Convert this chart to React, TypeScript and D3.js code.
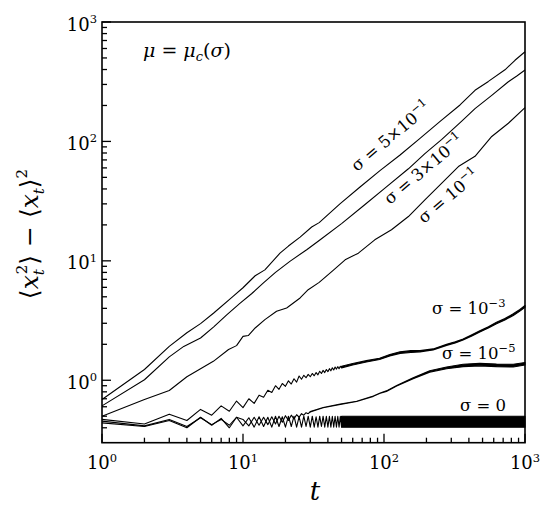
import React from 'react';
import * as d3 from 'd3';

const W = 550;
const H = 511;
const PLOT = { left: 102, right: 525, top: 22, bottom: 442.7 };

const X_DOMAIN: [number, number] = [1, 1000];
const Y_DOMAIN: [number, number] = [0.3, 1000];
const X_MAJOR = [1, 10, 100, 1000];
const X_EXP = ['0', '1', '2', '3'];
const Y_MAJOR = [1, 10, 100, 1000];
const Y_EXP = ['0', '1', '2', '3'];

// smooth curves: [t, <x^2>-<x>^2]
const SIG_5E1: [number, number][] = [
  [1, 0.69], [2, 1.23], [3, 1.92], [4, 2.5], [5, 2.98], [6.2, 3.66], [8.5, 5.04], [10, 5.95],
  [12.2, 7.5], [14.3, 8.4], [18.3, 11.6], [21, 13.3], [25.4, 15.8], [30.7, 19.2], [34.7, 20.9],
  [48.7, 30.0], [67.6, 41.5], [93.6, 57], [130, 77], [180, 106], [250, 147], [346, 202],
  [442, 268], [550, 318], [721, 398], [849, 478], [1000, 563],
];
const SIG_3E1: [number, number][] = [
  [1, 0.61], [2, 1.01], [3, 1.57], [3.8, 1.92], [5, 2.26], [6.2, 2.8], [7.7, 3.54], [9.5, 4.4],
  [11.5, 5.3], [13.9, 6.5], [17, 8.0], [21.5, 9.9], [28.3, 12.4], [34.7, 14.8], [50, 20.5],
  [73, 29.5], [100, 40], [149, 59], [195, 79], [257, 104], [356, 148], [442, 188], [581, 243],
  [762, 316], [880, 355], [1000, 396],
];
const SIG_1E1: [number, number][] = [
  [1, 0.5], [2, 0.69], [3, 0.82], [4, 1.07], [5, 1.25], [6.16, 1.44], [7.9, 1.81], [9, 1.95],
  [10, 2.33], [10.9, 2.37], [12.2, 2.74], [14.3, 3.22], [17.3, 3.78], [20.4, 4.03], [25.4, 4.89],
  [29, 5.73], [34.7, 6.6], [44, 8.4], [53, 10.2], [65.8, 11.6], [86, 15], [113, 18.2],
  [149, 23.5], [195, 32.4], [257, 44.7], [337, 61.6], [442, 75], [581, 110], [762, 142], [1000, 192],
];

// oscillating curves, early part: values at t = 1, 2, 3, ...
const SIG_1E3_EARLY = [
  0.47, 0.43, 0.52, 0.46, 0.57, 0.51, 0.61, 0.55, 0.67, 0.59,
  0.70, 0.64, 0.75, 0.72, 0.825, 0.79, 0.90, 0.84, 0.94, 0.89,
  0.99, 0.93, 1.03, 0.965, 1.085, 1.02, 1.10, 1.05, 1.12, 1.07,
  1.14, 1.09, 1.16, 1.11, 1.19, 1.14, 1.21, 1.16, 1.23, 1.18,
  1.25, 1.20, 1.27, 1.22, 1.29, 1.24, 1.30, 1.25, 1.31, 1.27,
];
const SIG_1E5_EARLY = [
  0.455, 0.415, 0.47, 0.41, 0.485, 0.425, 0.47, 0.42, 0.49, 0.47,
  0.415, 0.49, 0.42, 0.49, 0.425, 0.495, 0.43, 0.50, 0.445, 0.505,
  0.46, 0.51, 0.475, 0.515, 0.49, 0.525, 0.51, 0.535, 0.525, 0.545,
];
const SIG_0_EARLY = [
  0.44, 0.41, 0.46, 0.40, 0.49, 0.42, 0.48, 0.40, 0.49, 0.415,
  0.485, 0.405, 0.495, 0.41, 0.49, 0.405, 0.50, 0.41, 0.495, 0.405,
  0.50, 0.41, 0.50, 0.405, 0.495, 0.405, 0.50, 0.41, 0.50, 0.405,
  0.50, 0.405, 0.495, 0.405, 0.50, 0.41, 0.50, 0.405, 0.50, 0.405,
  0.50, 0.405, 0.50, 0.405, 0.50, 0.405, 0.50, 0.405, 0.50, 0.405,
];

// oscillating curves, late part (dense band): [t, low, high]
const SIG_1E3_LATE: [number, number, number][] = [
  [50, 1.27, 1.31], [60, 1.34, 1.38], [75, 1.42, 1.46], [93, 1.49, 1.53], [110, 1.60, 1.64],
  [130, 1.68, 1.73], [155, 1.71, 1.77], [180, 1.73, 1.77], [223, 1.79, 1.83], [278, 1.96, 2.00],
  [320, 2.05, 2.10], [364, 2.17, 2.22], [420, 2.35, 2.41], [478, 2.54, 2.60], [550, 2.74, 2.81],
  [628, 2.97, 3.06], [720, 3.20, 3.29], [826, 3.49, 3.60], [920, 3.79, 3.91], [1000, 4.09, 4.23],
];
const SIG_1E5_LATE: [number, number, number][] = [
  [30, 0.543, 0.547], [37, 0.588, 0.592], [49, 0.628, 0.632], [64, 0.664, 0.668], [84, 0.733, 0.737],
  [94, 0.777, 0.783], [104, 0.805, 0.815], [123, 0.895, 0.905], [161, 1.03, 1.05], [211, 1.17, 1.20],
  [278, 1.25, 1.29], [364, 1.30, 1.36], [478, 1.32, 1.39], [628, 1.30, 1.37], [826, 1.29, 1.36],
  [1000, 1.34, 1.41],
];
const SIG_0_LATE: [number, number, number][] = [
  [50, 0.405, 0.50], [1000, 0.405, 0.50],
];

const FONT = "'DejaVu Serif', 'Liberation Serif', serif";

export default function App() {
  const x = d3.scaleLog().domain(X_DOMAIN).range([PLOT.left, PLOT.right]);
  const y = d3.scaleLog().domain(Y_DOMAIN).range([PLOT.bottom, PLOT.top]);

  const line = d3
    .line<[number, number]>()
    .x((d) => x(d[0]))
    .y((d) => y(d[1]));
  const area = d3
    .area<[number, number, number]>()
    .x((d) => x(d[0]))
    .y0((d) => y(d[1]))
    .y1((d) => y(d[2]));

  const early = (vals: number[]) => vals.map((v, i) => [i + 1, v] as [number, number]);

  const xMinor = x.ticks().filter((v) => !X_MAJOR.includes(v));
  const yMinor = y.ticks().filter((v) => !Y_MAJOR.includes(v) && v > Y_DOMAIN[0]);

  const sup = (s: string) => (
    <tspan fontSize={11.5} dy={-7.5}>{s}</tspan>
  );

  return (
    <svg
      width={W}
      height={H}
      viewBox={`0 0 ${W} ${H}`}
      style={{ position: 'absolute', left: 0, top: 0, background: '#fff' }}
      fontFamily={FONT}
    >
      <rect x={0} y={0} width={W} height={H} fill="#fff" />

      {/* curves */}
      <g fill="none" stroke="#000" strokeWidth={1.1} strokeLinejoin="round">
        <path d={line(SIG_5E1) || ''} />
        <path d={line(SIG_3E1) || ''} />
        <path d={line(SIG_1E1) || ''} />
        <path d={line(early(SIG_1E3_EARLY)) || ''} />
        <path d={line(early(SIG_1E5_EARLY)) || ''} />
        <path d={line(early(SIG_0_EARLY)) || ''} />
      </g>
      <g fill="#000" stroke="#000" strokeWidth={1.1} strokeLinejoin="round">
        <path d={area(SIG_1E3_LATE) || ''} />
        <path d={area(SIG_1E5_LATE) || ''} />
        <path d={area(SIG_0_LATE) || ''} />
      </g>

      {/* ticks */}
      <g stroke="#000" strokeWidth={1.3}>
        {X_MAJOR.map((v) => (
          <line key={'xM' + v} x1={x(v)} x2={x(v)} y1={PLOT.bottom} y2={PLOT.bottom - 9} />
        ))}
        {xMinor.map((v) => (
          <line key={'xm' + v} x1={x(v)} x2={x(v)} y1={PLOT.bottom} y2={PLOT.bottom - 5} />
        ))}
        {Y_MAJOR.map((v) => (
          <line key={'yM' + v} x1={PLOT.left} x2={PLOT.left + 9} y1={y(v)} y2={y(v)} />
        ))}
        {yMinor.map((v) => (
          <line key={'ym' + v} x1={PLOT.left} x2={PLOT.left + 5} y1={y(v)} y2={y(v)} />
        ))}
      </g>

      {/* frame */}
      <rect
        x={PLOT.left}
        y={PLOT.top}
        width={PLOT.right - PLOT.left}
        height={PLOT.bottom - PLOT.top}
        fill="none"
        stroke="#000"
        strokeWidth={1.6}
      />

      {/* tick labels */}
      <g fontSize={18} fill="#000">
        {Y_MAJOR.map((v, i) => (
          <text key={'yl' + v} x={PLOT.left - 5} y={y(v) + 8.5} textAnchor="end">
            10{sup(Y_EXP[i])}
          </text>
        ))}
        {X_MAJOR.map((v, i) => (
          <text key={'xl' + v} x={x(v)} y={469} textAnchor="middle">
            10{sup(X_EXP[i])}
          </text>
        ))}
      </g>

      {/* axis titles */}
      <text x={315} y={500} fontSize={26} fontStyle="italic" textAnchor="middle">
        t
      </text>
      <text transform="translate(38,234) rotate(-90)" fontSize={25} textAnchor="middle">
        <tspan>⟨</tspan>
        <tspan fontStyle="italic">x</tspan>
        <tspan fontStyle="italic" fontSize={15} dy={6}>t</tspan>
        <tspan fontSize={15} dx={-5} dy={-17}>2</tspan>
        <tspan dy={11}>⟩ − ⟨</tspan>
        <tspan fontStyle="italic">x</tspan>
        <tspan fontStyle="italic" fontSize={15} dy={6}>t</tspan>
        <tspan dy={-6}>⟩</tspan>
        <tspan fontSize={15} dy={-11}>2</tspan>
      </text>

      {/* annotation */}
      <text x={143} y={57} fontSize={19}>
        <tspan fontStyle="italic">μ</tspan>
        <tspan> = </tspan>
        <tspan fontStyle="italic">μ</tspan>
        <tspan fontStyle="italic" fontSize={13} dy={4}>c</tspan>
        <tspan dy={-4}>(</tspan>
        <tspan fontStyle="italic">σ</tspan>
        <tspan>)</tspan>
      </text>

      {/* curve labels */}
      <g fontSize={16.5} fill="#000">
        <text transform="translate(357,172) rotate(-40)">
          σ = 5×10{sup('−1')}
        </text>
        <text transform="translate(390,205) rotate(-40)">
          σ = 3×10{sup('−1')}
        </text>
        <text transform="translate(424,224) rotate(-40)">
          σ = 10{sup('−1')}
        </text>
        <text x={432} y={314}>σ = 10{sup('−3')}</text>
        <text x={442} y={359}>σ = 10{sup('−5')}</text>
        <text x={460} y={411}>σ = 0</text>
      </g>
    </svg>
  );
}
